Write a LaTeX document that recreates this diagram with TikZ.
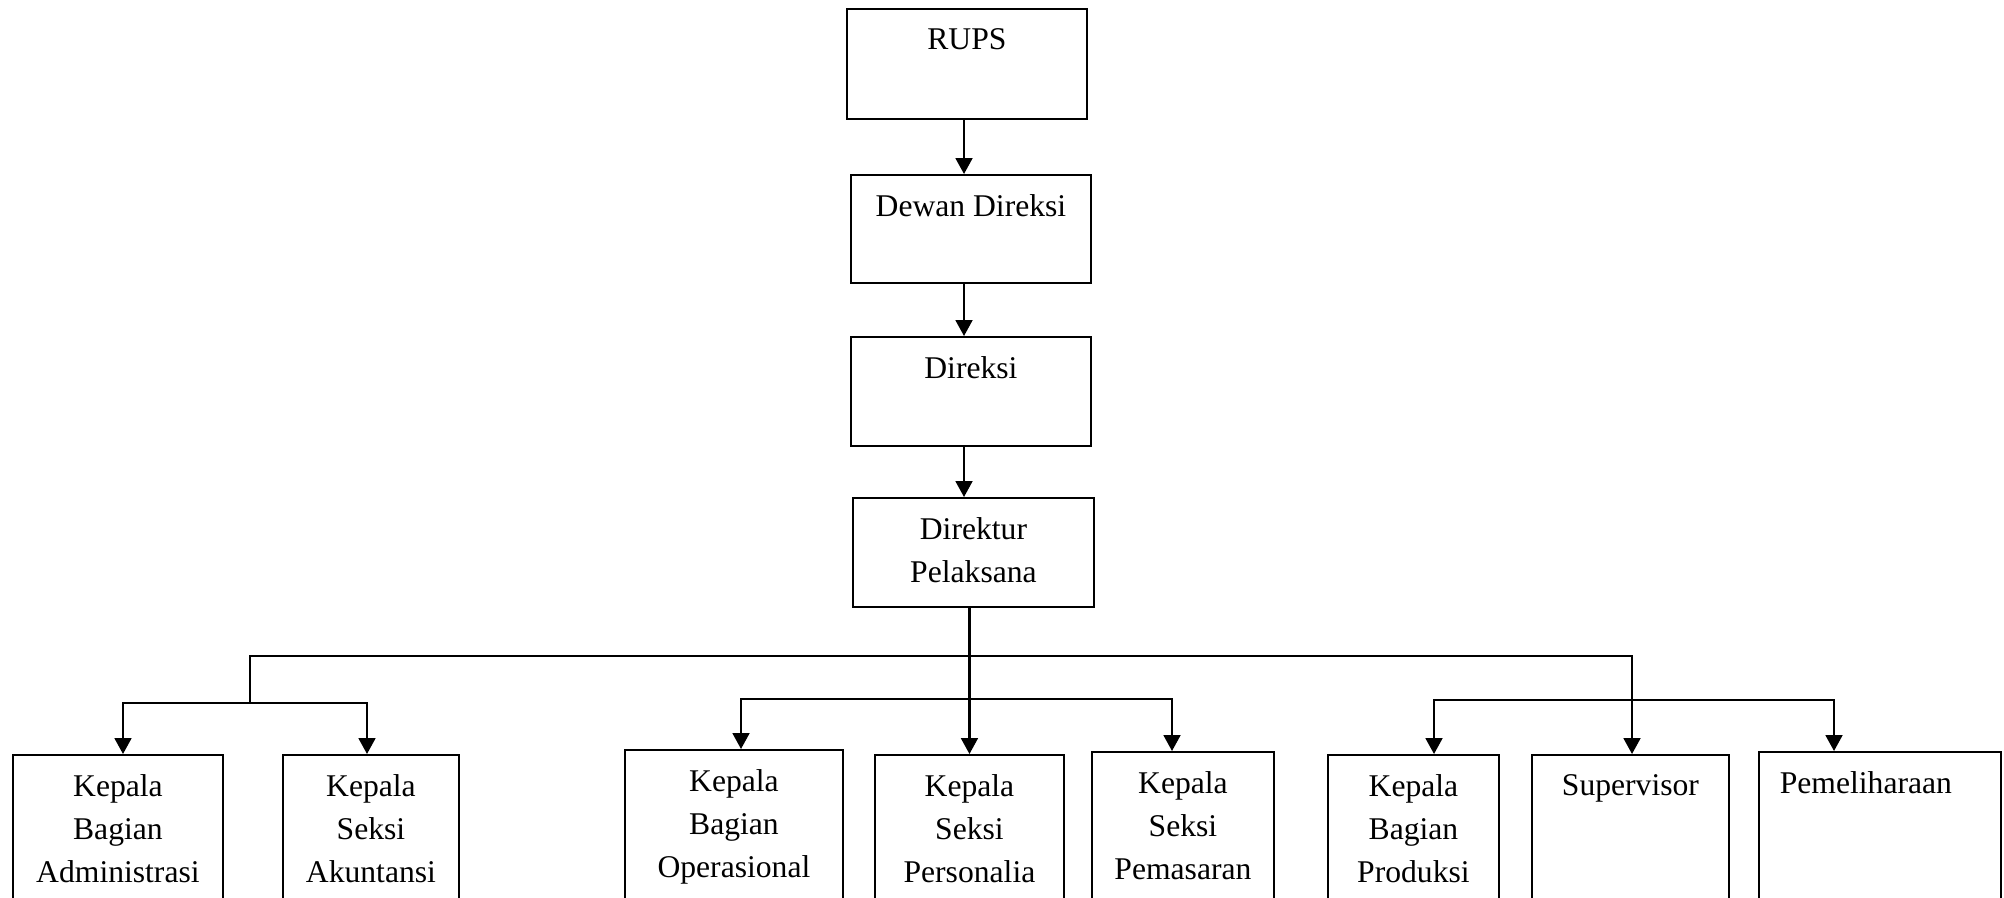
\documentclass[tikz,border=0pt]{standalone}
\usepackage{fontspec}
\setmainfont{Liberation Serif}
\usetikzlibrary{arrows.meta}

\begin{document}
\begin{tikzpicture}[
    x=0.02cm, y=-0.02cm,
    >={Triangle[length=9pt,width=9.5pt]},
    line width=1.3pt,
    font=\fontsize{18}{24.5}\selectfont,
    box/.style={draw, line width=1.1pt, anchor=north west, inner sep=0pt, minimum height=3.4cm},
    boxtext/.style={label={[anchor=north, align=center, inner sep=0pt, yshift=-11pt]north:{#1}}}
  ]
    \useasboundingbox (0,0) rectangle (2004,897);
    \clip (0,0) rectangle (2004,897);

    % top of the chart
    \node[box, minimum width=4.8cm, minimum height=2.2cm, boxtext={RUPS}] (rups) at (846,8) {};
    \node[box, minimum width=4.8cm, minimum height=2.16cm, boxtext={Dewan Direksi}] (dewan) at (850,174) {};
    \node[box, minimum width=4.8cm, minimum height=2.18cm, boxtext={Direksi}] (direksi) at (850,336) {};
    \node[box, minimum width=4.82cm, minimum height=2.18cm, boxtext={Direktur\\Pelaksana}] (dirut) at (852,497) {};

    % bottom row
    \node[box, minimum width=4.2cm, boxtext={Kepala\\Bagian\\Administrasi}] (adm) at (12,754) {};
    \node[box, minimum width=3.52cm, boxtext={Kepala\\Seksi\\Akuntansi}] (akt) at (282,754) {};
    \node[box, minimum width=4.36cm, boxtext={Kepala\\Bagian\\Operasional}] (ops) at (624,749) {};
    \node[box, minimum width=3.78cm, boxtext={Kepala\\Seksi\\Personalia}] (pers) at (874,754) {};
    \node[box, minimum width=3.64cm, boxtext={Kepala\\Seksi\\Pemasaran}] (pms) at (1091,751) {};
    \node[box, minimum width=3.42cm, boxtext={Kepala\\Bagian\\Produksi}] (prod) at (1327,754) {};
    \node[box, minimum width=3.94cm, boxtext={Supervisor}] (spv) at (1531,754) {};
    \node[box, minimum width=4.84cm, boxtext={\hspace*{-16pt}Pemeliharaan}] (pml) at (1758,751) {};

    \coordinate (top) at (964,0);
    \coordinate (jl) at (250,656);
    \coordinate (jr) at (1632,656);
    \coordinate (la) at (123,703);
    \coordinate (lb) at (367,703);
    \coordinate (ma) at (741,699);
    \coordinate (mb) at (1172,699);
    \coordinate (ra) at (1434,700);
    \coordinate (rb) at (1834,700);

    \draw[->] (rups.south -| top) -- (dewan.north -| top);
    \draw[->] (dewan.south -| top) -- (direksi.north -| top);
    \draw[->] (direksi.south -| top) -- (dirut.north -| top);
    \draw[->] (pers.north |- dirut.south) -- (pers.north);

    \draw[->] (jl |- la) -- (jl) -- (jr) -- (spv.north -| jr);
    \draw[<->] (adm.north -| la) -- (la) -- (lb) -- (akt.north -| lb);
    \draw[<->] (ops.north -| ma) -- (ma) -- (mb) -- (pms.north -| mb);
    \draw[<->] (prod.north -| ra) -- (ra) -- (rb) -- (pml.north -| rb);
  \end{tikzpicture}
\end{document}
